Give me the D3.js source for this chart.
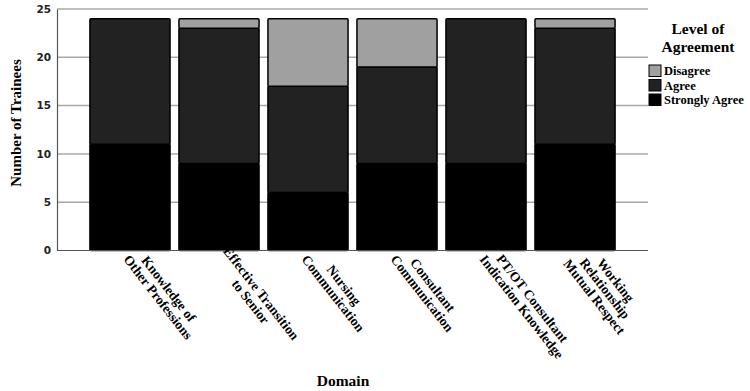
<!DOCTYPE html>
<html>
<head>
<meta charset="utf-8">
<script src="https://cdn.jsdelivr.net/npm/d3@7"></script>
<style>
  body { margin: 0; background: #fff; }
  svg { display: block; }
</style>
</head>
<body>
<div id="chartContainer"></div>
<script>
var domains = [
  "Knowledge of\nOther Professions",
  "Effective Transition\nto Senior",
  "Nursing\nCommunication",
  "Consultant\nCommunication",
  "PT/OT Consultant\nIndication Knowledge",
  "Working\nRelationship\nMutual Respect"
];
var stronglyAgree = [11, 9, 6, 9, 9, 11];
var agree = [13, 14, 11, 10, 15, 12];
var disagree = [0, 1, 7, 5, 0, 1];
var levels = ["Strongly Agree", "Agree", "Disagree"];
var levelColors = ["#000000", "#222222", "#a0a0a0"];
var yTicks = [0, 5, 10, 15, 20, 25];

function drawChart() {
  var width = 750, height = 391;
  var margin = { top: 9, right: 102, bottom: 140.5, left: 57 };
  var serif = "'Liberation Serif', 'Times New Roman', serif";

  var svg = d3.select("#chartContainer")
    .append("svg")
    .attr("width", width)
    .attr("height", height);

  var data = domains.map(function(d, i) {
    return { domain: d, "Strongly Agree": stronglyAgree[i], "Agree": agree[i], "Disagree": disagree[i] };
  });
  var series = d3.stack().keys(levels)(data);

  var x = d3.scaleBand()
    .domain(domains)
    .range([margin.left, width - margin.right])
    .paddingInner(0.1)
    .paddingOuter(0.37);

  var y = d3.scaleLinear()
    .domain([0, 25])
    .range([height - margin.bottom, margin.top]);

  var color = d3.scaleOrdinal().domain(levels).range(levelColors);

  // gridlines
  svg.append("g")
    .selectAll("line")
    .data(yTicks.slice(1))
    .enter()
    .append("line")
    .attr("x1", margin.left)
    .attr("x2", width - margin.right)
    .attr("y1", function(d) { return y(d); })
    .attr("y2", function(d) { return y(d); })
    .attr("stroke", "#a8a8a8")
    .attr("stroke-width", 1.5);

  // y axis
  var yAxis = svg.append("g")
    .attr("transform", "translate(" + margin.left + ",0)")
    .call(d3.axisLeft(y).tickValues(yTicks).tickSize(0).tickPadding(6));
  yAxis.select(".domain").attr("stroke", "#555").attr("stroke-width", 1.2);
  yAxis.selectAll("text")
    .attr("font-family", "'DejaVu Sans', Verdana, sans-serif")
    .attr("font-weight", "bold")
    .attr("font-size", "10.5px")
    .attr("fill", "#222");

  // bars
  svg.append("g")
    .selectAll("g")
    .data(series)
    .enter()
    .append("g")
    .attr("fill", function(d) { return color(d.key); })
    .selectAll("rect")
    .data(function(d) { return d.filter(function(v) { return v[1] > v[0]; }); })
    .enter()
    .append("rect")
    .attr("x", function(d) { return x(d.data.domain); })
    .attr("y", function(d) { return y(d[1]); })
    .attr("width", x.bandwidth())
    .attr("height", function(d) { return y(d[0]) - y(d[1]); })
    .attr("stroke", "#000")
    .attr("stroke-width", 1.5)
    .attr("rx", 1);

  // x axis line
  svg.append("line")
    .attr("x1", margin.left)
    .attr("x2", width - margin.right)
    .attr("y1", y(0))
    .attr("y2", y(0))
    .attr("stroke", "#555")
    .attr("stroke-width", 1.2);

  // rotated domain labels, lines centred within the block
  var lh = 13.5;
  var labels = svg.append("g")
    .selectAll("g")
    .data(domains)
    .enter()
    .append("g")
    .attr("transform", function(d) {
      return "translate(" + (x(d) + x.bandwidth() / 2 + 2) + "," + (y(0) + 2) + ") rotate(52)";
    });

  labels.each(function(d) {
    var g = d3.select(this);
    var lines = d.split("\n");
    var texts = lines.map(function(line, i) {
      return g.append("text")
        .attr("font-family", serif)
        .attr("font-weight", "bold")
        .attr("font-size", "13.5px")
        .attr("text-anchor", "middle")
        .attr("y", (i - (lines.length - 1) / 2) * lh)
        .attr("dy", "0.35em")
        .text(line);
    });
    var maxW = d3.max(texts, function(t) { return t.node().getComputedTextLength(); });
    texts.forEach(function(t) { t.attr("x", maxW / 2); });
  });

  // axis titles
  svg.append("text")
    .attr("transform", "translate(21," + 123 + ") rotate(-90)")
    .attr("text-anchor", "middle")
    .attr("font-family", serif)
    .attr("font-weight", "bold")
    .attr("font-size", "15px")
    .text("Number of Trainees");

  svg.append("text")
    .attr("x", 343)
    .attr("y", 386)
    .attr("text-anchor", "middle")
    .attr("font-family", serif)
    .attr("font-weight", "bold")
    .attr("font-size", "15.5px")
    .text("Domain");

  // legend
  var legend = svg.append("g");
  legend.append("text")
    .attr("x", 698)
    .attr("y", 34)
    .attr("text-anchor", "middle")
    .attr("font-family", serif)
    .attr("font-weight", "bold")
    .attr("font-size", "15.5px")
    .text("Level of");
  legend.append("text")
    .attr("x", 698)
    .attr("y", 52)
    .attr("text-anchor", "middle")
    .attr("font-family", serif)
    .attr("font-weight", "bold")
    .attr("font-size", "15.5px")
    .text("Agreement");

  var legendOrder = ["Disagree", "Agree", "Strongly Agree"];
  var items = legend.selectAll(".item")
    .data(legendOrder)
    .enter()
    .append("g")
    .attr("class", "item")
    .attr("transform", function(d, i) { return "translate(649," + (65 + i * 14.5) + ")"; });
  items.append("rect")
    .attr("width", 12)
    .attr("height", 11.5)
    .attr("fill", function(d) { return color(d); })
    .attr("stroke", "#000")
    .attr("stroke-width", 1);
  items.append("text")
    .attr("x", 15)
    .attr("y", 10)
    .attr("font-family", serif)
    .attr("font-weight", "bold")
    .attr("font-size", "12.5px")
    .text(function(d) { return d; });
}

drawChart();
</script>
</body>
</html>
